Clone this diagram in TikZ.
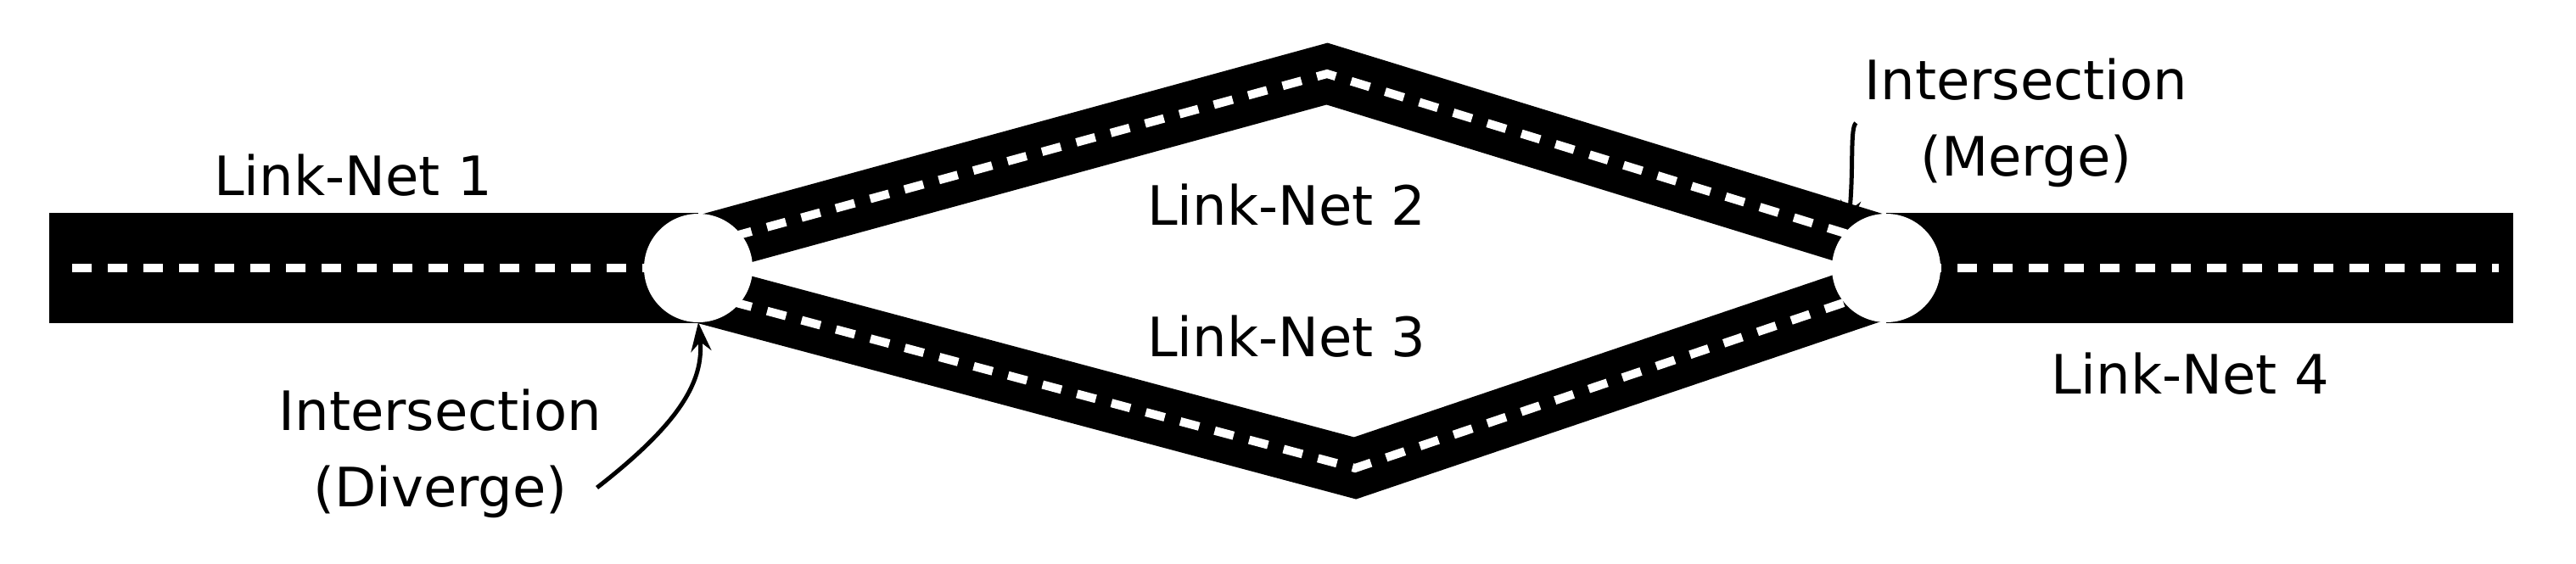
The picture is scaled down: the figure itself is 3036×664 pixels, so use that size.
\documentclass[tikz,border=0pt]{standalone}
\usepackage{fontspec}
\setmainfont{DejaVu Sans}
\usetikzlibrary{arrows.meta,positioning}
\tikzset{
  road/.style={line width=130pt},
  branch/.style={line width=70pt,line join=miter},
  lane/.style={white,line width=10pt,dash pattern=on 23pt off 19pt},
  junction/.style={circle,fill=white,minimum size=128pt,inner sep=0},
  tag/.style={font=\fontsize{64}{90}\selectfont,align=center,inner sep=0},
  pointer/.style={line width=5pt,-{Stealth[length=34pt,width=24pt]}}
}
\begin{document}
\begin{tikzpicture}[x=1pt,y=-1pt]
\useasboundingbox (0,0) rectangle (3036,664);
\coordinate (w) at (58,316);
\coordinate (e) at (2962,316);
\coordinate (top) at (1564,87);
\coordinate (bot) at (1597,552);

%roads
\draw[road] (w)--(823,316);
\draw[road] (2223,316)--(e);
\draw[branch] (823,290)--(top)--(2223,290);
\draw[branch] (823,345)--(bot)--(2223,340);
%lane markings
\draw[lane] (85,316)--(823,316);
\draw[lane] (2223,316)--(2945,316);
\draw[lane,line join=miter] (823,290)--(top)--(2223,290);
\draw[lane,line join=miter] (823,345)--(bot)--(2223,340);

%intersections
\node[junction] (div) at (823,316) {};
\node[junction] (mrg) at (2223,316) {};

%labels
\node[tag] (ln1) at (416,207) {Link-Net 1};
\node[tag] (ln2) at (1516,242) {Link-Net 2};
\node[tag] (ln3) at (1516,397) {Link-Net 3};
\node[tag] (ln4) at (2581,441) {Link-Net 4};
\node[tag] (divlbl) at (519,535) {Intersection\\(Diverge)};
\node[tag] (mrglbl) at (2388,145) {Intersection\\(Merge)};

%pointers
\draw[pointer] (divlbl.east)++(-6,40) .. controls (800,500) and (830,450) .. (div.south);
\draw[pointer] (mrglbl.west)++(-10,0) .. controls (2180,150) and (2185,200) .. (mrg.north west);
\end{tikzpicture}
\end{document}
